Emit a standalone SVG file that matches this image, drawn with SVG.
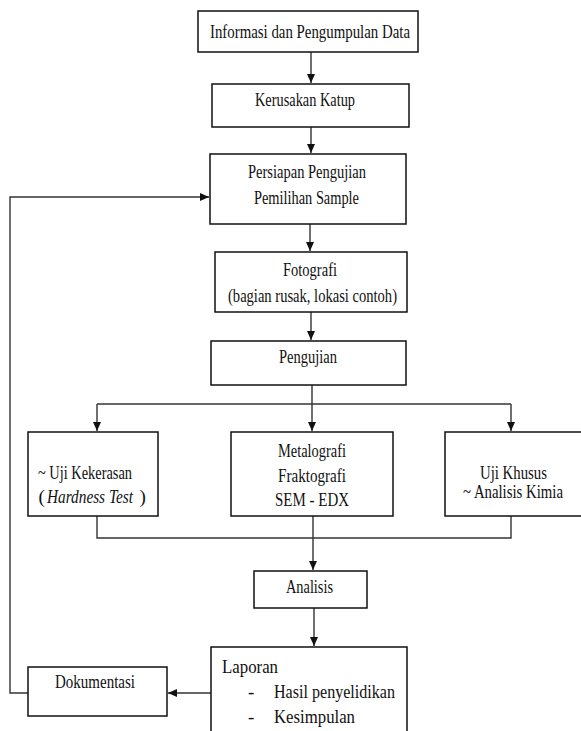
<svg xmlns="http://www.w3.org/2000/svg" width="581" height="731" viewBox="0 0 581 731">
<style>
.box{fill:#fff;stroke:#111;stroke-width:1.5}
.t{font-family:"Liberation Serif","Times New Roman",serif;font-size:19px;fill:#111}
.m{text-anchor:middle}
.c{fill:none;stroke:#333;stroke-width:1.4}
</style>
<defs>
<marker id="ah" markerUnits="userSpaceOnUse" markerWidth="9" markerHeight="8" refX="9" refY="4" orient="auto">
<path d="M0,0 L9,4 L0,8 z" fill="#111"/>
</marker>
</defs>
<rect width="581" height="731" fill="#fff"/>
<g id="connectors">
<path class="c" d="M311,52 V83" marker-end="url(#ah)"/>
<path class="c" d="M311,127 V153" marker-end="url(#ah)"/>
<path class="c" d="M310,224 V251" marker-end="url(#ah)"/>
<path class="c" d="M311,312 V340" marker-end="url(#ah)"/>
<path class="c" d="M312,385 V404"/>
<path class="c" d="M97,404 H511"/>
<path class="c" d="M97,404 V431" marker-end="url(#ah)"/>
<path class="c" d="M312,404 V431" marker-end="url(#ah)"/>
<path class="c" d="M511,404 V431" marker-end="url(#ah)"/>
<path class="c" d="M97,516 V538 H511 V516"/>
<path class="c" d="M313,516 V570" marker-end="url(#ah)"/>
<path class="c" d="M314,608 V646" marker-end="url(#ah)"/>
<path class="c" d="M211,693 H168" marker-end="url(#ah)"/>
<path class="c" d="M28,693 H10 V197 H209" marker-end="url(#ah)"/>
</g>
<g id="n1"><rect class="box" x="198" y="11" width="220" height="41"/>
<text class="t m" x="310" y="38" textLength="200" lengthAdjust="spacingAndGlyphs">Informasi  dan Pengumpulan Data</text></g>
<g id="n2"><rect class="box" x="212" y="84" width="197" height="43"/>
<text class="t m" x="305" y="106" textLength="100" lengthAdjust="spacingAndGlyphs">Kerusakan Katup</text></g>
<g id="n3"><rect class="box" x="210" y="154" width="196" height="70"/>
<text class="t m" x="307" y="178" textLength="118" lengthAdjust="spacingAndGlyphs">Persiapan Pengujian</text>
<text class="t m" x="306.5" y="204" textLength="105" lengthAdjust="spacingAndGlyphs">Pemilihan Sample</text></g>
<g id="n4"><rect class="box" x="215" y="252" width="192" height="60"/>
<text class="t m" x="310" y="276" textLength="54" lengthAdjust="spacingAndGlyphs">Fotografi</text>
<text class="t m" x="312.5" y="302" textLength="169" lengthAdjust="spacingAndGlyphs">(bagian rusak, lokasi contoh)</text></g>
<g id="n5"><rect class="box" x="211" y="341" width="195" height="44"/>
<text class="t m" x="308" y="363" textLength="58" lengthAdjust="spacingAndGlyphs">Pengujian</text></g>
<g id="n6"><rect class="box" x="28" y="432" width="130" height="84"/>
<text class="t" x="38" y="479" textLength="94" lengthAdjust="spacingAndGlyphs">~ Uji Kekerasan</text>
<text class="t" x="38.5" y="503">(</text>
<text class="t" x="47" y="503" font-style="italic" textLength="86" lengthAdjust="spacingAndGlyphs">Hardness Test</text>
<text class="t" x="139.5" y="503">)</text></g>
<g id="n7"><rect class="box" x="231" y="432" width="162" height="84"/>
<text class="t m" x="312" y="457" textLength="68" lengthAdjust="spacingAndGlyphs">Metalografi</text>
<text class="t m" x="312" y="482" textLength="68" lengthAdjust="spacingAndGlyphs">Fraktografi</text>
<text class="t m" x="312" y="506" textLength="74" lengthAdjust="spacingAndGlyphs">SEM - EDX</text></g>
<g id="n8"><path class="box" d="M581,432 H445 V516 H581"/>
<text class="t m" x="513.5" y="479" textLength="67" lengthAdjust="spacingAndGlyphs">Uji Khusus</text>
<text class="t m" x="513" y="498" textLength="100" lengthAdjust="spacingAndGlyphs">~ Analisis Kimia</text></g>
<g id="n9"><rect class="box" x="254" y="571" width="113" height="37"/>
<text class="t m" x="309.5" y="593" textLength="47" lengthAdjust="spacingAndGlyphs">Analisis</text></g>
<g id="n10"><path class="box" d="M211,731 V647 H407 V731"/>
<text class="t" x="222" y="673" textLength="56" lengthAdjust="spacingAndGlyphs">Laporan</text>
<text class="t" x="248" y="698">-</text>
<text class="t" x="274" y="698" textLength="121" lengthAdjust="spacingAndGlyphs">Hasil penyelidikan</text>
<text class="t" x="248" y="723">-</text>
<text class="t" x="274" y="723" textLength="81" lengthAdjust="spacingAndGlyphs">Kesimpulan</text></g>
<g id="n11"><rect class="box" x="28" y="667" width="139" height="49"/>
<text class="t m" x="95" y="688" textLength="80" lengthAdjust="spacingAndGlyphs">Dokumentasi</text></g>
</svg>
